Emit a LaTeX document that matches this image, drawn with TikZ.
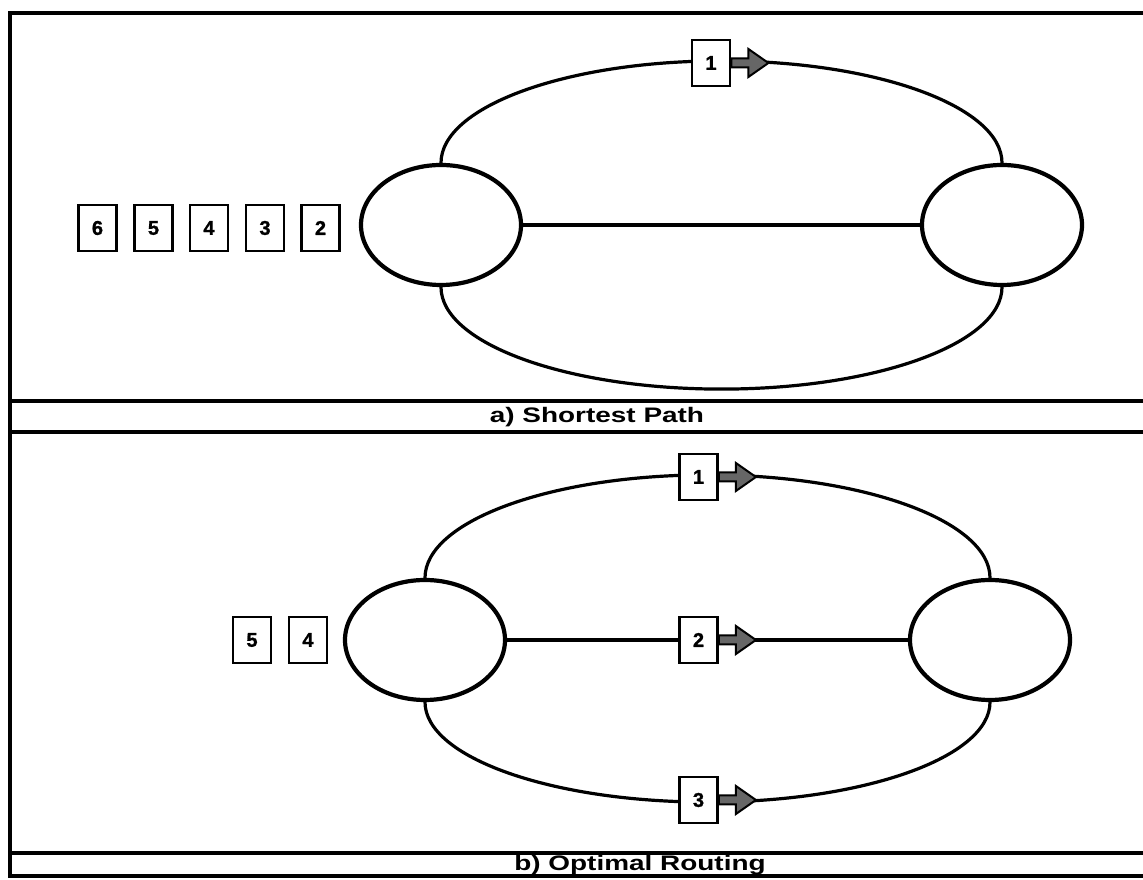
\documentclass[tikz,border=0pt]{standalone}
\usepackage{fontspec}
\setmainfont{Liberation Sans}
\newfontfamily\capfont{Liberation Sans}[FakeStretch=1.33]
\newfontfamily\numfont{Liberation Sans}[FakeBold=1.2]
\usetikzlibrary{shapes.geometric}
\tikzset{
  x=1pt,y=1pt,
  frame/.style={line width=4pt},
  site/.style={ellipse,draw,line width=4.2pt,minimum width=160,minimum height=120,inner sep=0},
  link/.style={line width=3.2pt},
  pkt/.style={draw,line width=2.8pt,fill=white,minimum width=38,minimum height=46,inner sep=0,font=\numfont\bfseries\fontsize{20}{20}\selectfont},
  arrowfill/.style={draw,line width=2pt,fill=black!60,line join=miter},
  caption/.style={font=\capfont\bfseries\fontsize{21}{21}\selectfont,inner sep=0}
}
\begin{document}
\begin{tikzpicture}
\useasboundingbox (0,0) rectangle (1143,880);
% frame
\draw[frame] (1143,867) -- (10,867) -- (10,4) -- (1143,4);
\draw[frame] (10,479) -- (1143,479);
\draw[frame] (10,448) -- (1143,448);
\draw[frame] (10,27) -- (1143,27);
\node[caption] (capa) at (597,463) {a) Shortest Path};
\node[caption] (capb) at (640,15) {b) Optimal Routing};
% ---------- panel a ----------
\node[site] (aL) at (441,655) {};
\node[site] (aR) at (1002,655) {};
\draw[link] (aL.east) -- (aR.west);
\draw[link] (aL.north) arc[start angle=180,end angle=0,x radius=280.5,y radius=102];
\draw[link] (aL.south) arc[start angle=180,end angle=360,x radius=280.5,y radius=102];
\node[pkt] (a1) at (711,817) {1};
\draw[arrowfill] (a1.east) ++(0,4.5) -- ++(17,0) -- ++(0,9.5) -- ++(20,-14) -- ++(-20,-14) -- ++(0,9.5) -- ++(-17,0) -- cycle;
\node[pkt] (a2) at (320.5,652) {2};
\node[pkt] (a3) at (265,652) {3};
\node[pkt] (a4) at (209,652) {4};
\node[pkt] (a5) at (153.5,652) {5};
\node[pkt] (a6) at (97.5,652) {6};
% ---------- panel b ----------
\node[site] (bL) at (425,240) {};
\node[site] (bR) at (990,240) {};
\draw[link] (bL.east) -- (bR.west);
\draw[link] (bL.north) arc[start angle=180,end angle=0,x radius=282.5,y radius=103];
\draw[link] (bL.south) arc[start angle=180,end angle=360,x radius=282.5,y radius=100];
\node[pkt] (b1) at (698.5,403) {1};
\node[pkt] (b2) at (698.5,240) {2};
\node[pkt] (b3) at (698.5,80) {3};
\foreach \b in {b1,b2,b3}{
  \draw[arrowfill] (\b.east) ++(0,4.5) -- ++(17,0) -- ++(0,9.5) -- ++(20,-14) -- ++(-20,-14) -- ++(0,9.5) -- ++(-17,0) -- cycle;
}
\node[pkt] (b4) at (308,240) {4};
\node[pkt] (b5) at (252,240) {5};
\end{tikzpicture}
\end{document}
